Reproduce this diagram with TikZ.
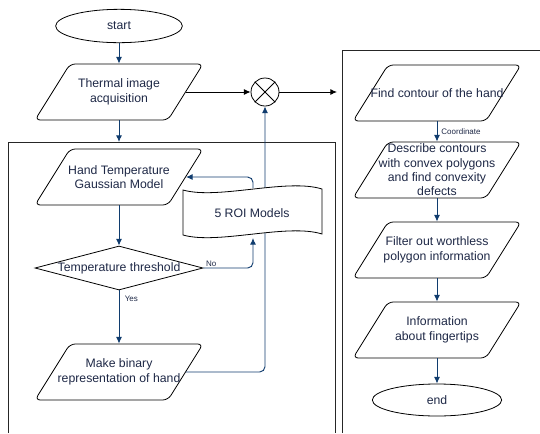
\documentclass[tikz,border=0pt]{standalone}
\usepackage{fontspec}
\setmainfont{Liberation Sans}
\usetikzlibrary{shapes.geometric,arrows.meta,positioning}

\definecolor{flowblue}{RGB}{16,60,110}
\definecolor{textnavy}{RGB}{30,40,70}

\tikzset{
  every node/.style={font=\fontsize{9.2}{10.8}\selectfont, text=textnavy},
  para/.style={draw, trapezium, trapezium left angle=58, trapezium right angle=122,
    trapezium stretches body, minimum width=126pt, text height=21pt, text depth=21pt,
    rounded corners=4pt, inner sep=0pt},
  term/.style={draw, ellipse, minimum width=95pt, minimum height=25pt, inner sep=0pt},
  decide/.style={draw, diamond, minimum width=126pt, minimum height=33pt, inner sep=0pt},
  txt/.style={align=center, inner sep=0pt},
  tiny/.style={font=\fontsize{6}{7}\selectfont, inner sep=1pt},
  flow/.style={draw=flowblue, line width=0.7pt, rounded corners=4pt, -{Latex[length=5pt,width=4.5pt]}},
  plain/.style={draw=black, line width=0.7pt, -{Latex[length=5pt,width=4.5pt]}}
}

\begin{document}
\begin{tikzpicture}[x=0.75pt, y=-0.75pt, line width=0.6pt]
\useasboundingbox (0,0) rectangle (540,433);

% frames
\draw [black!85] (8,433) -- (8,142) -- (335,142) -- (335,433);
\draw [black!85] (342,433) -- (342,50) -- (540,50);

% left column
\node [term] (start) at (119,26) {start};
\node [para] (acq) at (119,92) {};
\node [txt] (acqtext) at (acq) {Thermal image\\acquisition};
\coordinate (lefttop) at (119,142);
\node [para] (hand) at (119,177) {};
\node [txt] (handtext) at (hand) {Hand Temperature\\Gaussian Model};
\node [decide] (thr) at (119,268) {};
\node [txt] (thrtext) at (thr) {Temperature threshold};
\node [para] (bin) at (119,372) {};
\node [txt] (bintext) at (bin) {Make binary\\representation of hand};

% mixer
\node [draw, circle, minimum size=21pt, inner sep=0pt] (mix) at (265,92) {};
\draw (mix.north west) -- (mix.south east);
\draw (mix.north east) -- (mix.south west);
\coordinate (out) at (337,92);

\draw [flow] (start) -- (acq);
\draw [flow] (acq) -- (lefttop);
\draw [flow] (hand) -- (thr);
\draw [flow] (thr) -- node [tiny, pos=0.15, right=3pt] (yes) {Yes} (bin);
\draw [flow] (bin.east) -| (mix.south);
\draw [plain] (acq.east) -- (mix.west);
\draw [plain] (mix.east) -- (out);

% ROI models (tape)
\draw [fill=white] (183,190) .. controls (218,200) and (287,178) .. (322,189)
  -- (322,234) .. controls (287,223) and (218,245) .. (183,235) -- cycle;
\node [txt] (roi) at (252,213) {5 ROI Models};
\coordinate (roitop) at (253,188);
\coordinate (roibot) at (253,238);

\draw [flow] (thr.east) -| node [tiny, pos=0.08, above] (no) {No} (roibot);
\draw [flow] (roitop) |- (hand.east);

% right column
\node [para] (find) at (437,93) {};
\node [txt] (findtext) at (find) {Find contour of the hand};
\node [para] (desc) at (437,170) {};
\node [txt] (desctext) at (desc) {Describe contours\\with convex polygons\\and find convexity\\defects};
\node [para] (filt) at (437,250) {};
\node [txt] (filttext) at (filt) {Filter out worthless\\polygon information};
\node [para] (info) at (437,330) {};
\node [txt] (infotext) at (info) {Information\\about fingertips};
\node [term, minimum width=97pt, minimum height=24pt] (end) at (437,400) {end};

\draw [flow] (find) -- node [tiny, right=2pt] (coord) {Coordinate} (desc);
\draw [flow] (desc) -- (filt);
\draw [flow] (filt) -- (info);
\draw [flow] (info) -- (end);

\end{tikzpicture}
\end{document}
